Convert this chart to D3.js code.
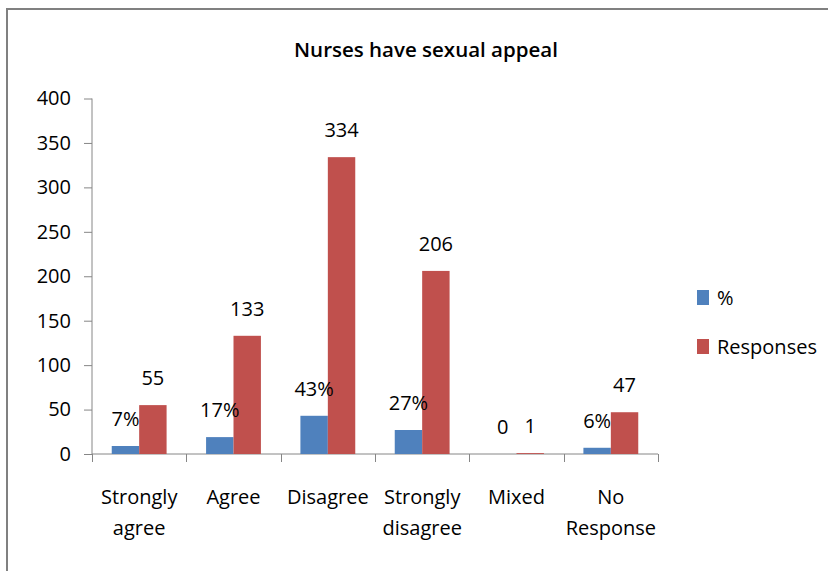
<!DOCTYPE html>
<html>
<head>
<meta charset="utf-8">
<script src="https://cdn.jsdelivr.net/npm/d3@7"></script>
<style>
  body { margin: 0; background: #fff; }
  svg { display: block; font-family: "Open Sans", sans-serif; }
</style>
</head>
<body>
<div id="chart"></div>
<script>
var width = 828,
    height = 571;

// data
var categories = ["Strongly agree", "Agree", "Disagree", "Strongly disagree", "Mixed", "No Response"];
var series = ["%", "Responses"];
var percentValues = [9, 19, 43, 27, 0, 7];
var percentLabels = ["7%", "17%", "43%", "27%", "0", "6%"];
var responseValues = [55, 133, 334, 206, 1, 47];
var responseLabels = ["55", "133", "334", "206", "1", "47"];
var yTicks = [0, 50, 100, 150, 200, 250, 300, 350, 400];

var colors = { "%": "#4F81BD", "Responses": "#C0504D" };
var axisColor = "#868686";

var plot = { left: 92, right: 658, top: 98.5, bottom: 454 };

var rows = categories.map(function (c, i) {
    return {
        cat: c,
        bars: [
            { key: "%", value: percentValues[i], label: percentLabels[i] },
            { key: "Responses", value: responseValues[i], label: responseLabels[i] }
        ]
    };
});

var svg = d3.select("#chart").append("svg")
    .attr("width", width)
    .attr("height", height);

// outer chart frame (only left and top edges fall in view)
svg.append("path")
    .attr("d", "M7,571V9H828")
    .attr("fill", "none")
    .attr("stroke", "#808080")
    .attr("stroke-width", 2);

svg.append("text")
    .attr("x", 426)
    .attr("y", 57)
    .attr("text-anchor", "middle")
    .attr("font-size", 20.5)
    .attr("font-weight", 600)
    .text("Nurses have sexual appeal");

var x = d3.scaleBand()
    .domain(categories)
    .range([plot.left, plot.right])
    .padding(0);

var x1 = d3.scaleBand()
    .domain(series)
    .range([0, x.bandwidth()])
    .paddingInner(0)
    .paddingOuter(0.72);

var y = d3.scaleLinear()
    .domain([0, 400])
    .range([plot.bottom, plot.top]);

// y axis
var yAxis = svg.append("g")
    .attr("transform", "translate(" + plot.left + ",0)")
    .call(d3.axisLeft(y).tickValues(yTicks).tickSize(8).tickPadding(13));
yAxis.selectAll("path, line").attr("stroke", axisColor);
yAxis.select(".domain").attr("d", "M0," + plot.top + "V" + plot.bottom);
yAxis.selectAll("text")
    .attr("font-family", "Open Sans, sans-serif")
    .attr("font-size", 20)
    .attr("fill", "#000");

// x axis line and boundary ticks
svg.append("line")
    .attr("x1", plot.left).attr("x2", plot.right)
    .attr("y1", plot.bottom).attr("y2", plot.bottom)
    .attr("stroke", axisColor);

var bounds = categories.map(function (c) { return x(c); }).concat([x.range()[1]]);
svg.append("g")
    .selectAll("line")
    .data(bounds)
    .join("line")
    .attr("x1", d => Math.round(d) + 0.5)
    .attr("x2", d => Math.round(d) + 0.5)
    .attr("y1", plot.bottom)
    .attr("y2", plot.bottom + 8)
    .attr("stroke", axisColor);

// category labels
var catText = svg.append("g")
    .attr("font-size", 20)
    .attr("text-anchor", "middle")
    .selectAll("text")
    .data(categories)
    .join("text")
    .attr("transform", d => "translate(" + (x(d) + x.bandwidth() / 2) + ",0)");
catText.selectAll("tspan")
    .data(d => d.split(" "))
    .join("tspan")
    .attr("x", 0)
    .attr("y", (d, i) => 504 + i * 31)
    .text(d => d);

// bars
var group = svg.append("g")
    .selectAll("g")
    .data(rows)
    .join("g")
    .attr("transform", d => "translate(" + x(d.cat) + ",0)");

group.selectAll("rect")
    .data(d => d.bars)
    .join("rect")
    .attr("x", d => x1(d.key))
    .attr("width", x1.bandwidth())
    .attr("y", d => y(d.value))
    .attr("height", d => y(0) - y(d.value))
    .attr("fill", d => colors[d.key]);

group.selectAll("text")
    .data(d => d.bars)
    .join("text")
    .attr("x", d => x1(d.key) + x1.bandwidth() / 2)
    .attr("y", d => y(d.value) - 20)
    .attr("text-anchor", "middle")
    .attr("font-size", 20)
    .text(d => d.label);

// legend
var legend = svg.append("g")
    .selectAll("g")
    .data(series)
    .join("g")
    .attr("transform", (d, i) => "translate(697," + (297.5 + i * 49) + ")");

legend.append("rect")
    .attr("x", 0)
    .attr("y", -7.5)
    .attr("width", 12)
    .attr("height", 15)
    .attr("fill", d => colors[d]);

legend.append("text")
    .attr("x", 20)
    .attr("y", 7)
    .attr("font-size", 20)
    .text(d => d);
</script>
</body>
</html>
